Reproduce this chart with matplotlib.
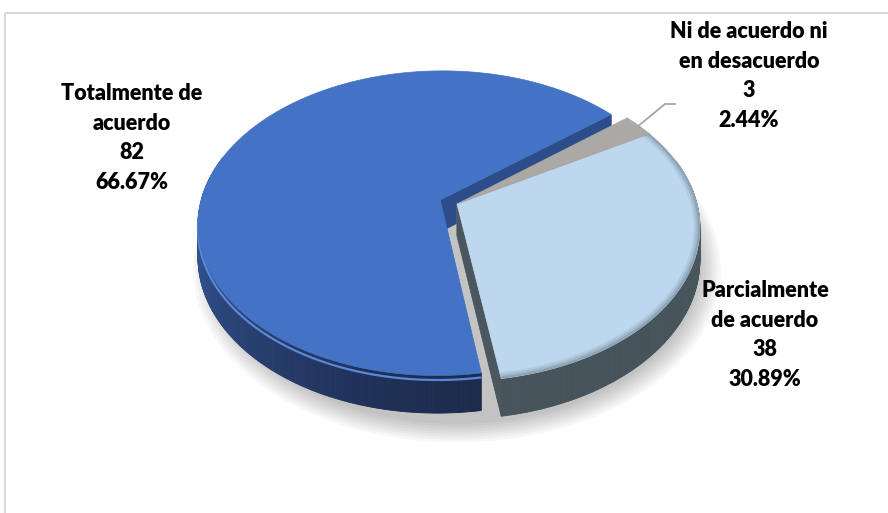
import numpy as np
import matplotlib
matplotlib.use("Agg")
import matplotlib.pyplot as plt
from matplotlib.patches import Polygon, Rectangle
from matplotlib.colors import to_rgb

# survey answers
labels = ["Totalmente de\nacuerdo", "Parcialmente\nde acuerdo", "Ni de acuerdo ni\nen desacuerdo"]
counts = [82, 38, 3]

# styling per slice
top_colors = ["#4472c4", "#bdd7ee", "#aba8a6"]
wall_light = ["#3f69b6", "#5d6a73", "#8d8988"]
wall_dark = ["#1a2849", "#46535b", "#6e6a69"]
cut_colors = ["#2c4d8a", "#4a575f", "#7b7776"]
explode = [0.075, 0.0, 0.0]
label_pos = [(132, 138), (765, 335), (749, 76)]

# pie geometry (pixels)
CX, CY = 457, 204
RX, RY = 240, 150
K = 0.153      # perspective strength
DEPTH = 32
START = 39.0


def project(u, v, h=0.0):
    s = 1.0 / (1.0 + K * v)
    return CX + RX * u * s, CY - RY * v * s + DEPTH * s * h


def mix(c1, c2, f):
    a, b = np.array(to_rgb(c1)), np.array(to_rgb(c2))
    return tuple(a + (b - a) * f)


fig = plt.figure(figsize=(8.88, 5.13), dpi=100)
ax = fig.add_axes([0, 0, 1, 1])
ax.set_xlim(0, 888)
ax.set_ylim(513, 0)
ax.axis("off")

# chart area border
ax.add_patch(Rectangle((5, 13), 900, 520, fill=False, edgecolor="#d9d9d9", lw=1.5))

total = sum(counts)
fracs = [c / total for c in counts]
bounds = []
a = START
for f in fracs:
    bounds.append((a, a + 360 * f))
    a += 360 * f

# soft shadow under the pie
tt = np.linspace(0, 2 * np.pi, 200)
for k in range(8):
    r = 1.0 + 0.012 * k
    xs, ys = project(r * np.cos(tt), r * np.sin(tt), 1.0)
    ax.add_patch(Polygon(np.column_stack([xs, ys + 5]), closed=True,
                         facecolor="black", edgecolor="none", alpha=0.03, zorder=1))

walls = []
tops = []
for i in range(len(counts)):
    a0, a1 = bounds[i]
    mid = np.radians((a0 + a1) / 2)
    ox, oy = explode[i] * np.cos(mid), explode[i] * np.sin(mid)
    t = np.radians(np.linspace(a0, a1, max(int((a1 - a0) * 2), 6)))
    u, v = ox + np.cos(t), oy + np.sin(t)
    top = np.column_stack(project(u, v, 0.0))
    bot = np.column_stack(project(u, v, 1.0))

    # outer curved side
    for j in range(len(t) - 1):
        tm = 0.5 * (t[j] + t[j + 1])
        if np.sin(tm) > 0.3:
            continue
        f = (1 - np.cos(tm - np.radians(120))) / 2
        quad = [top[j], top[j + 1], bot[j + 1], bot[j]]
        walls.append((np.mean([p[1] for p in quad]), quad, mix(wall_light[i], wall_dark[i], f)))

    # radial cut faces that look toward the viewer
    apex_t = project(ox, oy, 0.0)
    apex_b = project(ox, oy, 1.0)
    for ang, normal in ((a0, a0 - 90), (a1, a1 + 90)):
        if np.sin(np.radians(normal)) >= 0:
            continue
        ra = np.radians(ang)
        rt = project(ox + np.cos(ra), oy + np.sin(ra), 0.0)
        rb = project(ox + np.cos(ra), oy + np.sin(ra), 1.0)
        quad = [apex_t, rt, rb, apex_b]
        walls.append((np.mean([p[1] for p in quad]), quad, cut_colors[i]))

    tops.append((np.vstack([[apex_t], top]), top, t))

for _, quad, col in sorted(walls, key=lambda w: w[0]):
    ax.add_patch(Polygon(quad, closed=True, facecolor=col, edgecolor=col, lw=0.6, zorder=2))

# light bevel line on the blue side
pts, rim, t = tops[0]
sel = np.sin(t) < 0.05
a0, a1 = bounds[0]
mid = np.radians((a0 + a1) / 2)
ox, oy = explode[0] * np.cos(mid), explode[0] * np.sin(mid)
bx, by = project(ox + np.cos(t[sel]), oy + np.sin(t[sel]), 0.12)
ax.plot(bx, by, color="#5a88d6", lw=1.6, zorder=3, solid_capstyle="butt")

for i, (pts, rim, t) in enumerate(tops):
    poly = Polygon(pts, closed=True, facecolor=top_colors[i], edgecolor=top_colors[i],
                   lw=0.5, zorder=4)
    ax.add_patch(poly)
    if i == 1:
        # darker rounded rim on the light slice
        for w, al in ((9, 0.10), (6, 0.14), (3, 0.22)):
            ln, = ax.plot(rim[:, 0], rim[:, 1], color="#4b5961", lw=w, alpha=al, zorder=5)
            ln.set_clip_path(poly)

# leader line for the small slice
a0, a1 = bounds[2]
mid = np.radians((a0 + a1) / 2)
lx, ly = project(np.cos(mid), np.sin(mid), 0.0)
ax.plot([lx, 665, 675], [ly, 104, 104], color="#a6a6a6", lw=1.3, zorder=6)

for i in range(len(counts)):
    txt = f"{labels[i]}\n{counts[i]}\n{counts[i] / total * 100:.2f}%"
    ax.text(label_pos[i][0], label_pos[i][1], txt, ha="center", va="center",
            fontsize=15.5, fontweight="heavy", family="Lato", linespacing=1.5,
            color="black", zorder=7)

fig.savefig("out.png", dpi=100)
